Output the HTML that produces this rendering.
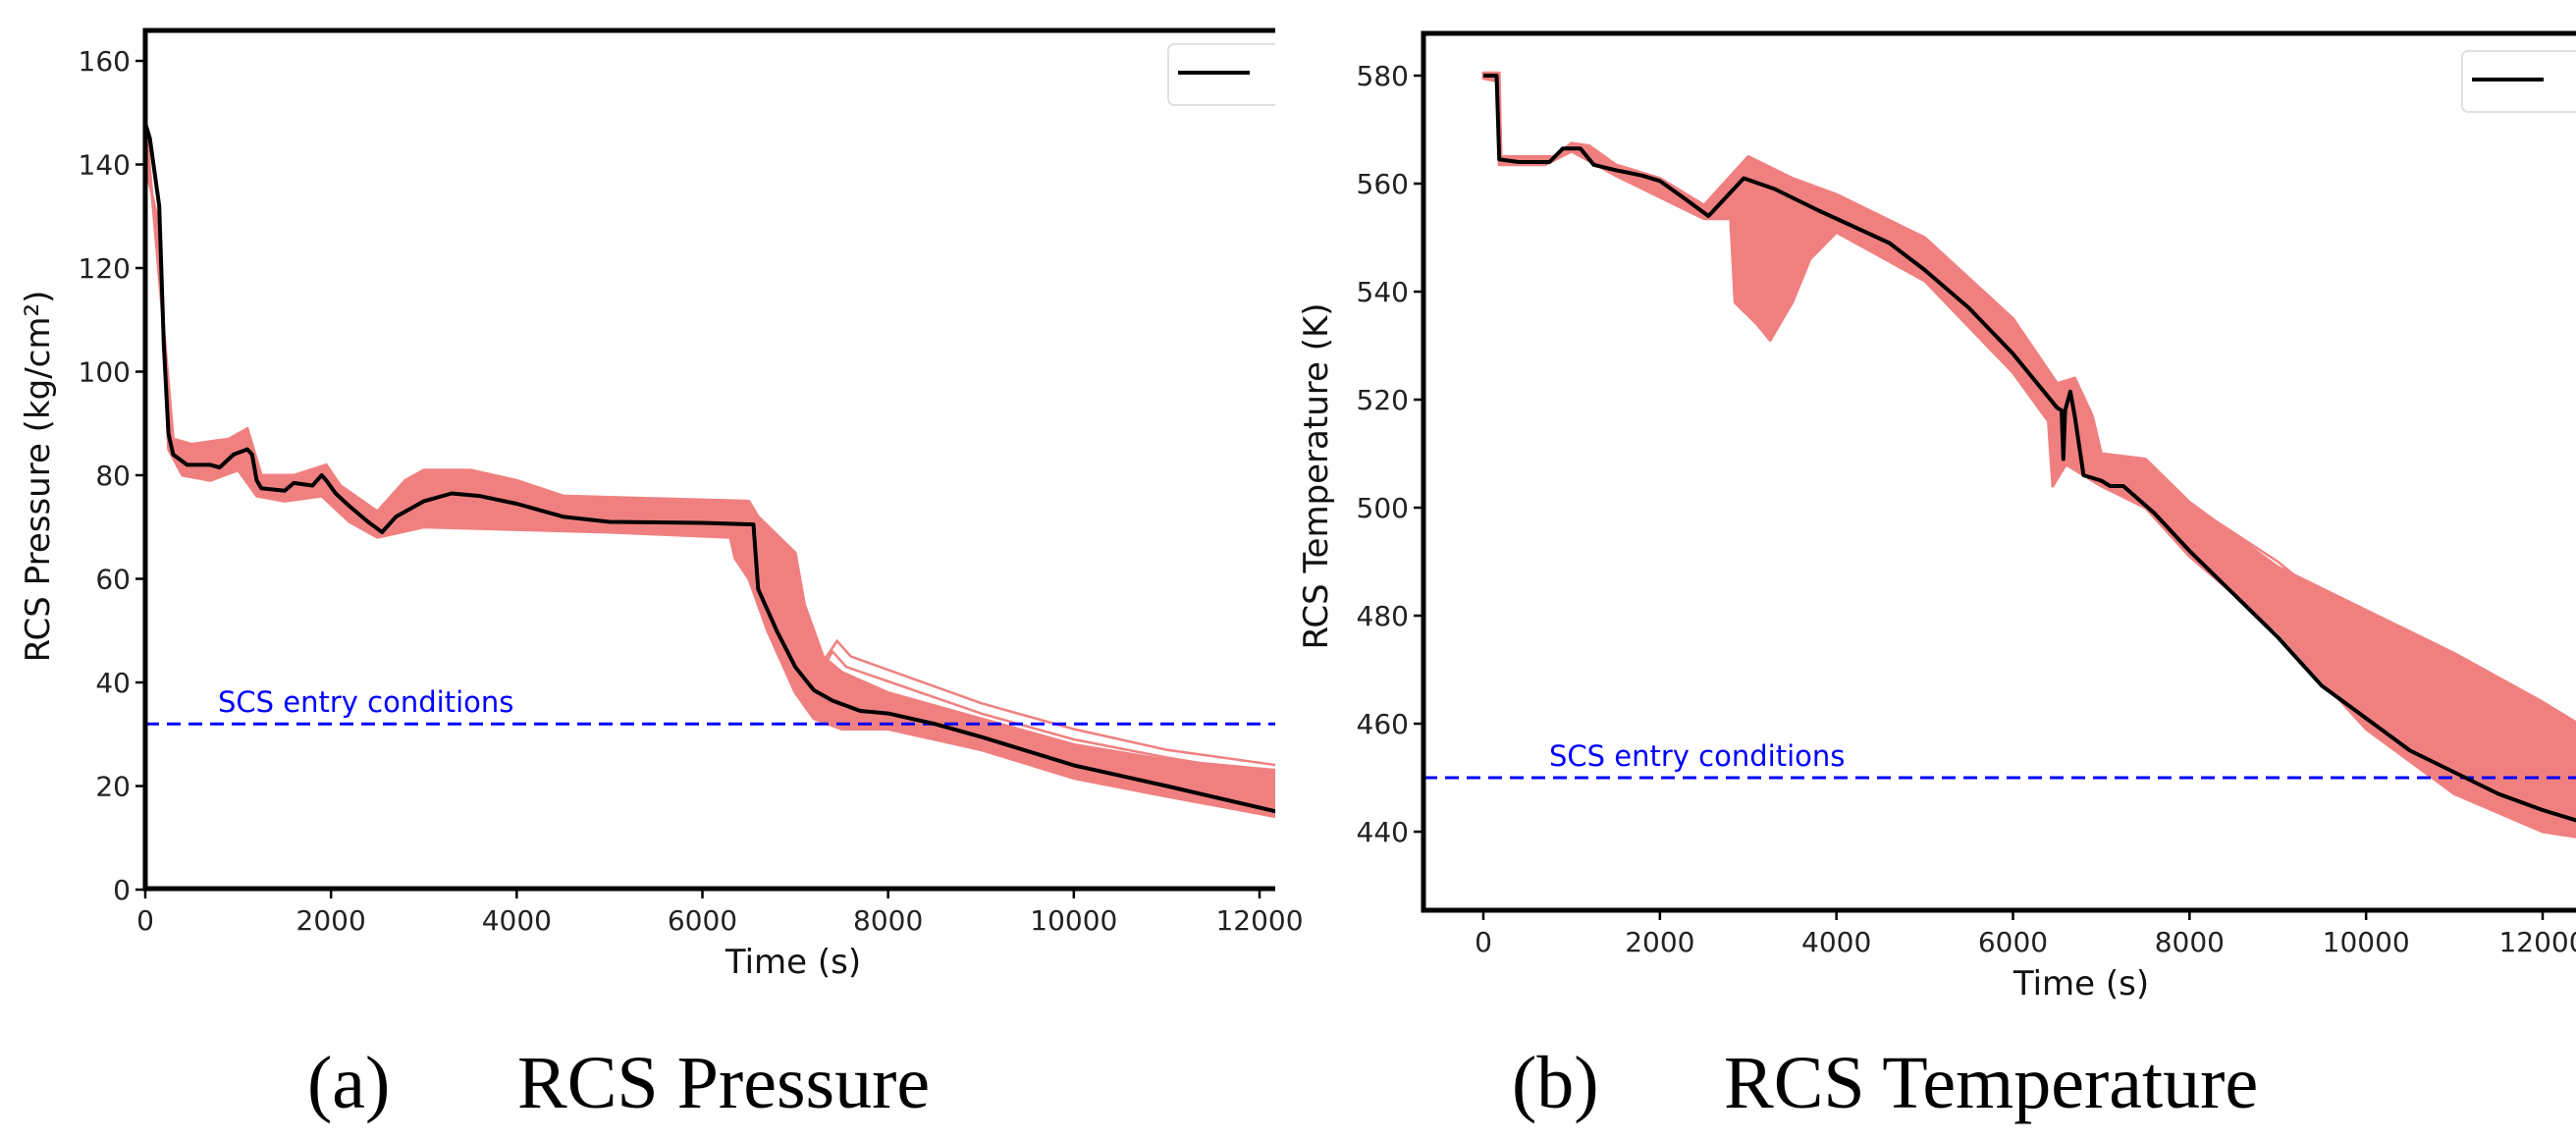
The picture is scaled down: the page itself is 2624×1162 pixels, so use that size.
<!DOCTYPE html>
<html><head><meta charset="utf-8"><style>
html,body{margin:0;padding:0;background:#fff;}
svg{display:block;font-family:"DejaVu Sans","Liberation Sans",sans-serif;}
</style></head><body>
<svg id="fig" width="2624" height="1162" viewBox="0 0 2624 1162" xmlns="http://www.w3.org/2000/svg">
<defs>
<clipPath id="clipA"><rect x="150" y="32" width="1149" height="872"/></clipPath>
<clipPath id="clipB"><rect x="1452" y="36" width="1172" height="890"/></clipPath>
</defs>
<g id="pA"></g>
<g id="pB"></g>
<text x="313" y="1128" font-family="Liberation Serif, serif" font-size="76">(a)</text>
<text x="527" y="1128" font-family="Liberation Serif, serif" font-size="76">RCS Pressure</text>
<text x="1540" y="1128" font-family="Liberation Serif, serif" font-size="76">(b)</text>
<text x="1756" y="1128" font-family="Liberation Serif, serif" font-size="76">RCS Temperature</text>
</svg>
<script>
// ---- Pressure data ----
const pTime=[0,50,150,200,250,300,450,700,800,950,1100,1150,1200,1250,1500,1600,1800,1900,1950,2050,2200,2400,2550,2700,3000,3300,3600,4000,4500,5000,6000,6550,6600,6800,7000,7200,7400,7700,8000,8500,9000,10000,11000,12200];
const pMean=[148,145,132,105,88,84,82,82,81.5,84,85,84,79,77.5,77,78.5,78,80,79,76.5,74,71,69,72,75,76.5,76,74.5,72,71,70.8,70.5,58,50,43,38.5,36.5,34.5,34,32,29.5,24,20,15];
const pUpT=[0,200,300,500,900,1100,1250,1600,1950,2100,2500,2800,3000,3500,4000,4500,6500,6600,7000,7100,7300,7500,8000,9000,10000,11000,12200];
const pUpV=[149,108,87,86,87,89,80,80,82,78,73,79,81,81,79,76,75,72,65,55,45,42,38,33,28,25,23];
const pLoT=[0,150,250,400,700,1000,1200,1500,1900,2200,2500,3000,4000,5000,6300,6350,6500,6700,7000,7200,7500,8000,9000,10000,11000,12200];
const pLoV=[140,128,85,80,79,81,76,75,76,71,68,70,69.5,69,68,64,60,50,38,33,31,31,27,21.5,18,14];
const pOutT=[7300,7450,7600,9000,10000,11000,12200];
const pOutV=[44,48,45,36,31,27,24];
const pOut2T=[7250,7400,7550,9000,10000,11000,12200];
const pOut2V=[41,46,43,34,29,25.5,22];
const pYTicks=[0,20,40,60,80,100,120,140,160];
const pXTicks=[0,2000,4000,6000,8000,10000,12000];
const pScs=32;
// ---- Temperature data ----
const tTime=[0,150,180,400,750,900,1100,1250,1500,1800,2000,2300,2550,2950,3300,3800,4200,4600,5000,5500,6000,6500,6550,6570,6590,6650,6700,6800,7000,7100,7250,7600,8000,8500,9000,9500,10000,10500,11000,11500,12000,12400];
const tMean=[580,580,564.5,564,564,566.5,566.5,563.5,562.5,561.5,560.5,557,554,561,559,555,552,549,544,537,528.5,518.5,518,509,518,521.5,517,506,505,504,504,499,492,484,476,467,461,455,451,447,444,442];
const tUpT=[0,180,200,800,1000,1200,1500,2000,2500,3000,3500,4000,5000,6000,6500,6700,6900,7000,7500,8000,9000,10000,11000,12000,12400];
const tUpV=[580.5,580.5,565,565,567.5,567,563.5,561,556,565,561,558,550,535,523,524,517,510,509,501,489,481,473,464,460];
const tLoT=[0,150,180,700,1000,1500,2500,2800,2850,3100,3250,3500,3700,4000,5000,6000,6400,6450,6600,7000,7500,8000,9000,10000,11000,12000,12400];
const tLoV=[579.5,579,563.5,563.5,566,561.5,553.5,553.5,538,534,531,538,546,551,542,525,516,504,508,504,500,491,477,459,447,440,439];
const tOutT=[7500,9000,10500,12400];
const tOutV=[506,490,470,452];
const tOut2T=[7600,9000,10000,11000,12400];
const tOut2V=[505,487,474,463,448];
const tYTicks=[440,460,480,500,520,540,560,580];
const tXTicks=[0,2000,4000,6000,8000,10000,12000];
const tScs=450;

const NS="http://www.w3.org/2000/svg";
function mk(parent,tag,attrs){const e=document.createElementNS(NS,tag);for(const k in attrs)e.setAttribute(k,attrs[k]);parent.appendChild(e);return e;}
function pathOf(ts,vs,sx,sy){return ts.map((t,i)=>(i?'L':'M')+sx(t).toFixed(1)+','+sy(vs[i]).toFixed(1)).join('');}

function drawChart(g,cfg){
  const sx=v=>cfg.x0+(v-0)/12000*(cfg.x12-cfg.x0);
  const sy=v=>cfg.yA+(v-cfg.vA)/(cfg.vB-cfg.vA)*(cfg.yB-cfg.yA);
  const plot=mk(g,'g',{'clip-path':'url(#'+cfg.clip+')'});
  
  
  const bandD=pathOf(cfg.upT,cfg.upV,sx,sy)+cfg.loT.slice().reverse().map((t,i)=>'L'+sx(t).toFixed(1)+','+sy(cfg.loV[cfg.loV.length-1-i]).toFixed(1)).join('')+'Z';
  const band=mk(plot,'path',{d:bandD,fill:'#f08080',stroke:'#f08080','stroke-width':3,'stroke-linejoin':'round'});
  
  
  cfg.outs.forEach(o=>{
    const l=mk(plot,'path',{d:pathOf(o[0],o[1],sx,sy),fill:'none',stroke:'#f08080','stroke-width':2.5});
    
    
  });
  const scs=mk(plot,'line',{x1:cfg.fl,x2:2624,y1:sy(cfg.scs),y2:sy(cfg.scs),stroke:'#0000ff','stroke-width':3,'stroke-dasharray':'14,8'});
  
  
  const m=mk(plot,'path',{d:pathOf(cfg.mT,cfg.mV,sx,sy),fill:'none',stroke:'#000','stroke-width':4,'stroke-linejoin':'round'});
  
  
  const lg=mk(plot,'rect',{x:cfg.lgx,y:cfg.lgy,width:200,height:62,rx:6,fill:'#fff',stroke:'#e0e0e0','stroke-width':2});
  
  
  const ll=mk(plot,'line',{x1:cfg.lgx+10,x2:cfg.lgx+83,y1:cfg.lgy+29,y2:cfg.lgy+29,stroke:'#000','stroke-width':4});
  
  
  const st=mk(g,'text',{x:cfg.scsX,y:sy(cfg.scs)-12,fill:'#0000ff','font-size':29});
  st.textContent='SCS entry conditions';
  
  
  const fr=mk(g,'path',{d:`M${cfg.fr},${cfg.ft}L${cfg.fl},${cfg.ft}L${cfg.fl},${cfg.fb}L${cfg.fr},${cfg.fb}`,fill:'none',stroke:'#000','stroke-width':5});
  
  
  cfg.yTicks.forEach(v=>{
    const y=sy(v);
    const t=mk(g,'line',{x1:cfg.fl-10,x2:cfg.fl,y1:y,y2:y,stroke:'#000','stroke-width':2.5});
    
    
    const tx=mk(g,'text',{x:cfg.fl-15,y:y+10,'text-anchor':'end','font-size':28,fill:'#222'});
    tx.textContent=v;
    
    
  });
  cfg.xTicks.forEach(v=>{
    const x=sx(v);
    const t=mk(g,'line',{x1:x,x2:x,y1:cfg.fb,y2:cfg.fb+10,stroke:'#000','stroke-width':2.5});
    
    
    const tx=mk(g,'text',{x:x,y:cfg.fb+42,'text-anchor':'middle','font-size':28,fill:'#222'});
    tx.textContent=v;
    
    
  });
  const xt=mk(g,'text',{x:cfg.xlx,y:cfg.fb+86,'text-anchor':'middle','font-size':34,fill:'#111'});
  xt.textContent='Time (s)';
  
  
  const yt=mk(g,'text',{x:0,y:0,'text-anchor':'middle','font-size':34,fill:'#111',transform:`translate(${cfg.ylx},${cfg.yly}) rotate(-90)`});
  yt.textContent=cfg.ylabel;
  
  
}

drawChart(document.getElementById('pA'),{clip:'clipA',x0:148,x12:1283,vA:160,yA:62,vB:0,yB:906,
  fl:148,ft:31,fb:905,fr:1299,upT:pUpT,upV:pUpV,loT:pLoT,loV:pLoV,mT:pTime,mV:pMean,
  outs:[[pOutT,pOutV],[pOut2T,pOut2V]],scs:pScs,scsX:222,lgx:1190,lgy:45,
  yTicks:pYTicks,xTicks:pXTicks,xlx:808,ylx:50,yly:485,ylabel:'RCS Pressure (kg/cm²)'});
drawChart(document.getElementById('pB'),{clip:'clipB',x0:1511,x12:2590,vA:580,yA:77,vB:440,yB:847,
  fl:1450,ft:34,fb:927,fr:2624,upT:tUpT,upV:tUpV,loT:tLoT,loV:tLoV,mT:tTime,mV:tMean,
  outs:[[tOutT,tOutV],[tOut2T,tOut2V]],scs:tScs,scsX:1578,lgx:2508,lgy:52,
  yTicks:tYTicks,xTicks:tXTicks,xlx:2120,ylx:1352,yly:485,ylabel:'RCS Temperature (K)'});
</script>
</body></html>
